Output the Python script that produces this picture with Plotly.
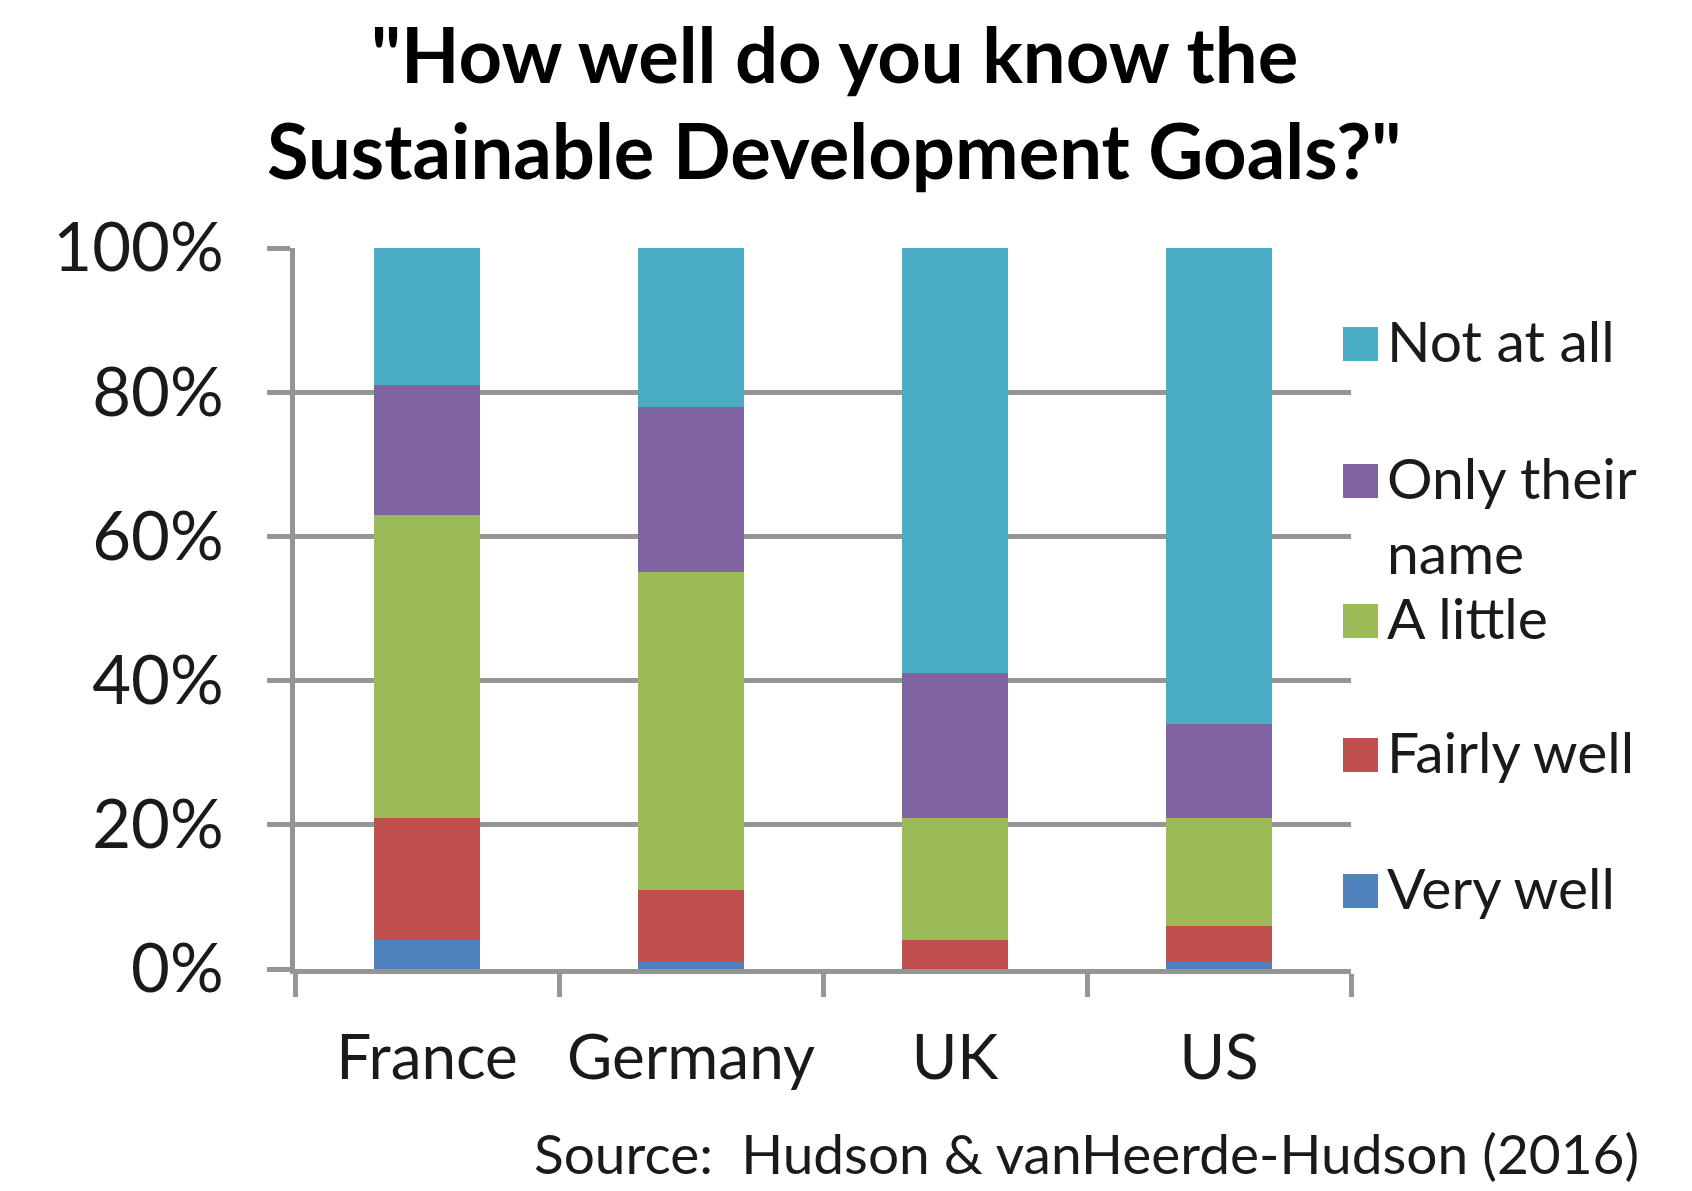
import plotly.graph_objects as go

countries = ["France", "Germany", "UK", "US"]
series_names = ["Very well", "Fairly well", "A little", "Only their name", "Not at all"]
very_well = [0.04, 0.01, 0.0, 0.01]
fairly_well = [0.17, 0.10, 0.04, 0.05]
a_little = [0.42, 0.44, 0.17, 0.15]
only_name = [0.18, 0.23, 0.20, 0.13]
not_at_all = [0.19, 0.22, 0.59, 0.66]
series_values = [very_well, fairly_well, a_little, only_name, not_at_all]
colors = ["#4F81BD", "#C0504D", "#9BBB59", "#8064A2", "#4BACC6"]
legend_lines = [["Very well"], ["Fairly well"], ["A little"], ["Only their", "name"], ["Not at all"]]
title_lines = ["\"How well do you know the", "Sustainable Development Goals?\""]
source_text = "Source:  Hudson &amp; vanHeerde-Hudson (2016)"

FONT = "Lato"
GRID = "#959595"
TXT = "#1a1a1a"

# The page body has an 8px margin: work in reference pixels, shift by OFF
OFF = 8
W, H = 1692 - OFF, 1191 - OFF
L, R, T, B = 295 - OFF, 1351 - OFF, 248 - OFF, 969 - OFF
pw, ph = R - L, B - T


def px_x(p):  # reference pixel -> paper x
    return (p - OFF - L) / pw


def px_y(p):  # reference pixel -> paper y
    return (B - (p - OFF)) / ph


fig = go.Figure()
for name, vals, col in zip(series_names, series_values, colors):
    fig.add_trace(go.Bar(x=countries, y=vals, name=name,
                         marker=dict(color=col, line=dict(width=0)), showlegend=False))

shapes = []
annotations = []

# manual legend, top-down from "Not at all" to "Very well"
legend_centers = [891, 755, 621, 481, 344]
for lines, col, cy in zip(legend_lines, colors, legend_centers):
    shapes.append(dict(type="rect", xref="paper", yref="paper",
                       x0=px_x(1343), x1=px_x(1378), y0=px_y(cy + 17), y1=px_y(cy - 17),
                       fillcolor=col, line=dict(width=0)))
    for i, ln in enumerate(lines):
        annotations.append(dict(xref="paper", yref="paper", x=px_x(1385), y=px_y(cy - 4 + 75 * i),
                                xanchor="left", yanchor="middle", text=ln, showarrow=False,
                                font=dict(family=FONT, size=57, color=TXT)))

# title lines
for ln, cy in zip(title_lines, [54, 149]):
    annotations.append(dict(xref="paper", yref="paper", x=px_x(834), y=px_y(cy),
                            xanchor="center", yanchor="middle", text="<b>" + ln + "</b>",
                            showarrow=False, font=dict(family=FONT, size=76, color="black")))

annotations.append(dict(xref="paper", yref="paper", x=px_x(1641), y=px_y(1153),
                        xanchor="right", yanchor="middle", text=source_text, showarrow=False,
                        font=dict(family=FONT, size=55, color=TXT)))

fig.update_layout(
    width=W, height=H,
    barmode="stack", bargap=0.6,
    plot_bgcolor="white", paper_bgcolor="white",
    margin=dict(l=L, r=W - R, t=T, b=H - B, autoexpand=False),
    shapes=shapes, annotations=annotations,
    font=dict(family=FONT, color=TXT),
)
fig.update_xaxes(type="category", tickson="boundaries", ticks="outside", ticklen=23, tickwidth=5,
                 tickcolor=GRID, showline=True, linecolor=GRID, linewidth=5, showgrid=False,
                 automargin=False, tickangle=0,
                 tickfont=dict(family=FONT, size=62, color=TXT), ticklabelstandoff=31)
fig.update_yaxes(range=[0, 1], dtick=0.2, tickformat=".0%", showgrid=True, gridcolor=GRID, gridwidth=5,
                 showline=True, linecolor=GRID, linewidth=5, ticks="outside", ticklen=23, tickwidth=5,
                 tickcolor=GRID, zeroline=False, automargin=False,
                 tickfont=dict(family=FONT, size=67, color=TXT), ticklabelstandoff=30)

fig.write_html("out.html")
